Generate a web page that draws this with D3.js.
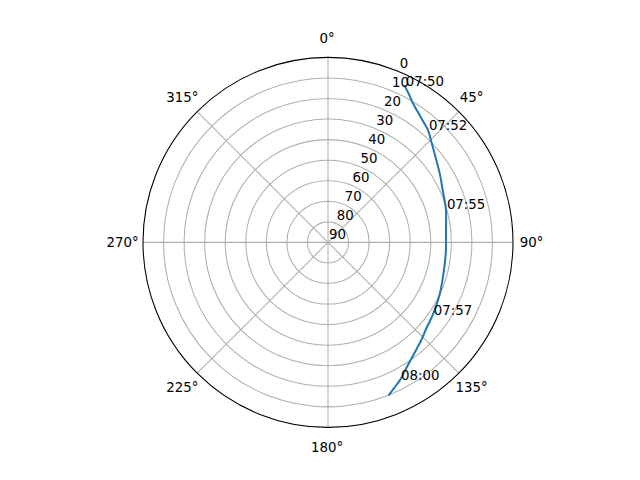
<!DOCTYPE html>
<html>
<head>
<meta charset="utf-8">
<script src="https://cdn.jsdelivr.net/npm/d3@7"></script>
<style>
  html, body { margin: 0; padding: 0; background: #fff; }
  svg { display: block; }
  text { font-family: "DejaVu Sans", sans-serif; font-size: 13.33px; fill: #000; }
</style>
</head>
<body>
<svg id="chart" width="640" height="480"></svg>
<script>
// ---- data ----
const times = ["07:50:00","07:50:30","07:51:00","07:51:30","07:52:00","07:52:30",
               "07:53:00","07:53:30","07:54:00","07:54:30","07:55:00","07:55:30",
               "07:56:00","07:56:30","07:57:00","07:57:30","07:58:00","07:58:30",
               "07:59:00","07:59:30","08:00:00","08:00:30","08:01:00"];
const azimuth = [26.1, 28.5, 31.3, 34.5, 38.0, 41.6, 46.2, 51.9, 58.5, 65.9, 74.2, 84.0,
                 94.2, 104.4, 114.8, 124.7, 131.0, 136.3, 142.0, 147.3, 152.4, 155.6, 158.2];
const elevation = [5.2, 7.7, 10.6, 12.9, 15.0, 16.8, 20.1, 23.4, 26.2, 28.8, 30.4, 32.3,
                   32.5, 31.9, 30.1, 28.0, 26.5, 24.3, 21.7, 18.5, 14.4, 12.2, 10.1];
const labelTimes = ["07:50:00","07:52:30","07:55:00","07:57:30","08:00:00"];
const radialTicks = [0, 10, 20, 30, 40, 50, 60, 70, 80, 90];
const angleTicks = [0, 45, 90, 135, 180, 225, 270, 315];
const rLabelAngle = 22.5;

// ---- layout ----
const cx = 328, cy = 242.4, R = 185;
const svg = d3.select("#chart");
svg.append("rect").attr("width", 640).attr("height", 480).attr("fill", "#fff");
const g = svg.append("g").attr("transform", `translate(${cx},${cy})`);

const rScale = d3.scaleLinear().domain([0, 90]).range([R, 0]);
const aScale = d3.scaleLinear().domain([0, 360]).range([0, 2 * Math.PI]);
const px = (az, el) => rScale(el) * Math.sin(aScale(az));
const py = (az, el) => -rScale(el) * Math.cos(aScale(az));

// grid rings
g.selectAll("circle.ring")
  .data(radialTicks.filter(t => t > 0 && t < 90))
  .enter().append("circle")
  .attr("class", "ring")
  .attr("r", d => rScale(d))
  .attr("fill", "none").attr("stroke", "#b0b0b0").attr("stroke-width", 1.07);

// radial grid lines
g.selectAll("line.spoke")
  .data(angleTicks)
  .enter().append("line")
  .attr("class", "spoke")
  .attr("x1", 0).attr("y1", 0)
  .attr("x2", d => px(d, 0)).attr("y2", d => py(d, 0))
  .attr("stroke", "#b0b0b0").attr("stroke-width", 1.07);

// track
const data = times.map((t, i) => ({ t, az: azimuth[i], el: elevation[i] }));
const line = d3.lineRadial()
  .curve(d3.curveCatmullRom.alpha(0.5))
  .angle(d => aScale(d.az))
  .radius(d => rScale(d.el));
g.append("path")
  .datum(data)
  .attr("d", line)
  .attr("fill", "none")
  .attr("stroke", "#1f77b4")
  .attr("stroke-width", 2)
  .attr("stroke-linecap", "square");

// spine
g.append("circle").attr("r", rScale(0))
  .attr("fill", "none").attr("stroke", "#000").attr("stroke-width", 1.07);

// radial labels
g.selectAll("text.rlab")
  .data(radialTicks)
  .enter().append("text")
  .attr("class", "rlab")
  .attr("x", d => px(rLabelAngle, d) + 1)
  .attr("y", d => py(rLabelAngle, d) - 3.1)
  .attr("text-anchor", "start")
  .text(d => d);

// angle labels
const labD = R + 19.5;
g.selectAll("text.alab")
  .data(angleTicks)
  .enter().append("text")
  .attr("class", "alab")
  .attr("x", d => labD * Math.sin(aScale(d)) - 1)
  .attr("y", d => -labD * Math.cos(aScale(d)))
  .attr("dy", "0.35em")
  .attr("text-anchor", "middle")
  .text(d => d + "°");

// time labels
g.selectAll("text.tlab")
  .data(data.filter(d => labelTimes.includes(d.t)))
  .enter().append("text")
  .attr("class", "tlab")
  .attr("x", d => px(d.az, d.el) + 1)
  .attr("y", d => py(d.az, d.el))
  .attr("text-anchor", "start")
  .text(d => d.t.slice(0, 5));
</script>
</body>
</html>
